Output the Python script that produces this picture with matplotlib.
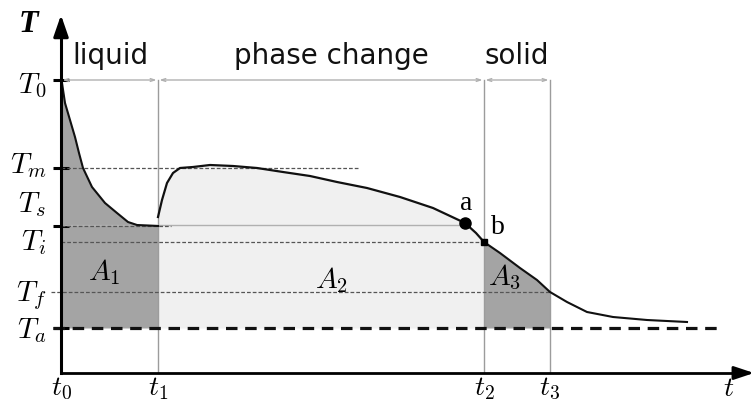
import numpy as np
import matplotlib
matplotlib.use("Agg")
import matplotlib.pyplot as plt

plt.rcParams['mathtext.fontset'] = 'cm'
plt.rcParams['font.family'] = ['DejaVu Sans']

# ---------------- data (arbitrary time / temperature units) ----------------
# characteristic temperatures
T_levels = {'T0': 293, 'Tm': 205, 'Ts': 147, 'Ti': 131, 'Tf': 81, 'Ta': 45}
# characteristic times
t_marks = [0, 97, 423, 489]
t_tick_labels = [r'$t_0$', r'$t_1$', r'$t_2$', r'$t_3$']
y_label_texts = [r'$T_0$', r'$T_m$', r'$T_s$', r'$T_i$', r'$T_f$', r'$T_a$']
y_label_levels = [287, 207, 168, 130, 77, 42]

# liquid cooling curve (t0 -> t1)
liquid_t = [0, 1, 4, 9, 14, 18, 22, 31, 44, 56, 67, 76, 97]
liquid_T = [293, 290, 270, 253, 236, 220, 205, 186, 170, 160, 151, 148, 147]

# phase change curve (t1 -> t2)
phase_t = [97, 101, 106, 112, 119, 132, 149, 172, 196, 222, 249, 276, 306, 339, 372, 404, 415, 423]
phase_T = [156, 173, 190, 200, 205, 206, 208, 207, 205, 201, 197, 191, 185, 176, 165, 150, 140, 131]

# solid cooling curve (t2 -> end)
solid_t = [423, 439, 459, 476, 489, 506, 526, 552, 586, 626]
solid_T = [131, 120, 105, 93, 81, 71, 61, 56, 53, 51]

region_labels = ['liquid', 'phase change', 'solid']
area_labels = [r'$A_1$', r'$A_2$', r'$A_3$']

point_a = (404, 150)
point_b = (423, 131)

# ---------------- figure ----------------
fig = plt.figure(figsize=(7.54, 4.01), dpi=100)
ax = fig.add_axes([0, 0, 1, 1])
ax.set_xlim(-61, 693)
ax.set_ylim(-28, 373)

Ta = T_levels['Ta']
dark = '#a4a4a4'
light = '#f0f0f0'

lt = np.array(liquid_t); lT = np.array(liquid_T)
pt = np.array(phase_t); pT = np.array(phase_T)
st = np.array(solid_t); sT = np.array(solid_T)

# filled areas
ax.fill_between(lt, Ta, lT, color=dark, lw=0, zorder=1)
ax.fill_between(pt, Ta, pT, color=light, lw=0, zorder=1)
m3 = st <= t_marks[3]
ax.fill_between(st[m3], Ta, sT[m3], color=dark, lw=0, zorder=1)

# vertical region separators
for tx in t_marks[1:]:
    ax.plot([tx, tx], [0, T_levels['T0']], color='#9c9c9c', lw=1.0, zorder=2)

# T0 dimension line with small arrows
for a0, a1 in zip(t_marks[:-1], t_marks[1:]):
    ax.annotate('', xy=(a1, T_levels['T0']), xytext=(a0, T_levels['T0']),
                arrowprops=dict(arrowstyle='<->,head_length=0.3,head_width=0.1',
                                color='#b0b0b0', lw=1.0, shrinkA=1, shrinkB=1),
                zorder=2)

dot_kw = dict(color='#555555', lw=0.9, dashes=(3, 1.6), zorder=3)
# Tm dotted
ax.plot([0, 299], [T_levels['Tm']] * 2, **dot_kw)
# Ts line: dotted then light solid up to point a
ax.plot([0, point_a[0]], [T_levels['Ts'] + 1] * 2, color='#b0b0b0', lw=1.0, zorder=2)
ax.plot([0, 110], [T_levels['Ts']] * 2, **dot_kw)
# Ti dotted to t2
ax.plot([0, t_marks[2]], [T_levels['Ti']] * 2, **dot_kw)
# Tf dotted to t3
ax.plot([-10, t_marks[3]], [T_levels['Tf']] * 2, **dot_kw)
# Ta dashed
ax.plot([-8, 662], [Ta, Ta], color='#111111', lw=2.3, dashes=(3.6, 2.4), zorder=3)

# curves
ax.plot(lt, lT, color='#111111', lw=1.5, zorder=4)
ax.plot(pt, pT, color='#111111', lw=1.6, zorder=4)
ax.plot(st, sT, color='#111111', lw=1.5, zorder=4)

# points a and b
ax.plot(*point_a, marker='o', ms=8, color='black', zorder=5)
ax.plot(*point_b, marker='s', ms=4.5, color='black', zorder=5)
ax.text(point_a[0] + 1, 169, 'a', fontsize=20, family='Liberation Serif',
        ha='center', va='center', zorder=6)
ax.text(point_b[0] + 14, 145, 'b', fontsize=20, family='Liberation Serif',
        ha='center', va='center', zorder=6)

# axes (spines positioned at the origin)
for s in ['top', 'right']:
    ax.spines[s].set_visible(False)
ax.spines['left'].set_position(('data', 0))
ax.spines['bottom'].set_position(('data', 0))
ax.spines['left'].set_bounds(0, 345)
ax.spines['bottom'].set_bounds(0, 680)
ax.spines['left'].set_linewidth(2.2)
ax.spines['bottom'].set_linewidth(2.0)
ax.spines['left'].set_zorder(6)
ax.spines['bottom'].set_zorder(6)
ax.annotate('', xy=(0, 358), xytext=(0, 340),
            arrowprops=dict(arrowstyle='-|>,head_length=1.3,head_width=0.45',
                        color='black', lw=2.2, shrinkA=0, shrinkB=0), zorder=7)
ax.annotate('', xy=(693, 0), xytext=(675, 0),
            arrowprops=dict(arrowstyle='-|>,head_length=1.2,head_width=0.4',
                        color='black', lw=2.0, shrinkA=0, shrinkB=0), zorder=7)

ax.set_yticks([T_levels['T0'], T_levels['Tm'], T_levels['Ts'], Ta])
ax.set_yticklabels([''] * 4)
ax.tick_params(axis='y', direction='inout', length=12, width=2.2, color='black')
ax.set_xticks(t_marks)
ax.set_xticklabels(t_tick_labels, fontsize=20)
ax.tick_params(axis='x', length=0, pad=1)

# y labels
for lab, yv in zip(y_label_texts, y_label_levels):
    ax.text(-15, yv, lab, fontsize=21, ha='right', va='center')

# axis titles
ax.text(-33, 348, 'T', fontsize=23, family='Liberation Serif', weight='bold',
        style='italic', ha='center', va='center')
ax.text(668, -15, r'$t$', fontsize=20, ha='center', va='center')

# region labels
for lab, xv in zip(region_labels, [49, 270, 456]):
    ax.text(xv, 317, lab, fontsize=20, ha='center', va='center', color='#111111')

# area labels
for lab, (xv, yv) in zip(area_labels, [(43, 101), (270, 93), (444, 96)]):
    ax.text(xv, yv, lab, fontsize=21, ha='center', va='center', zorder=6)

fig.savefig('out.png', dpi=100)
